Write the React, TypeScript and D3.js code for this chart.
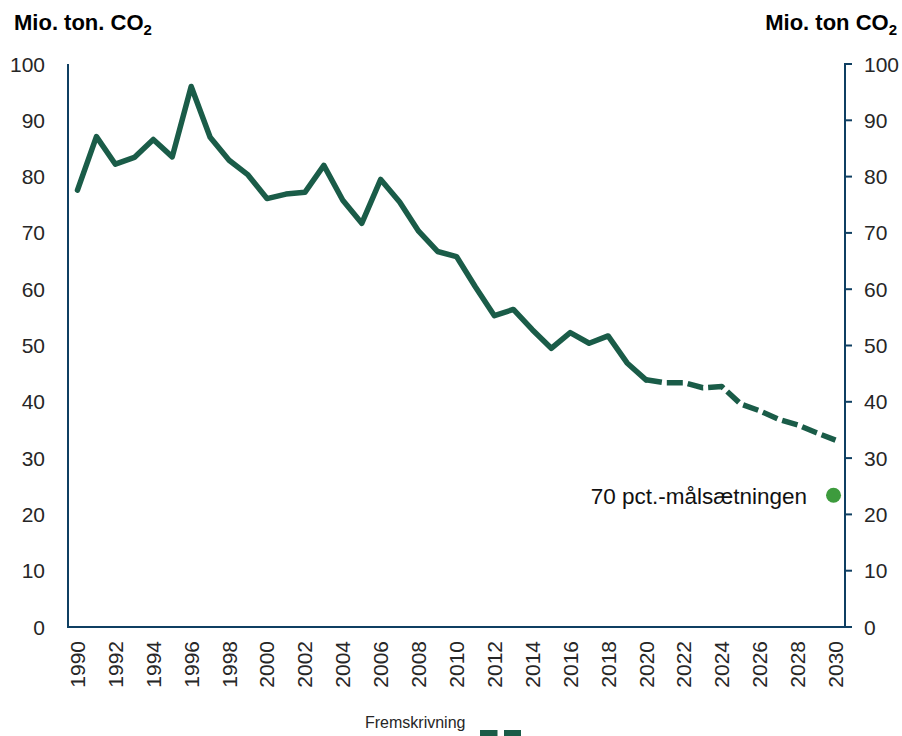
import React from "react";
import * as d3 from "d3";

const histYears = [1990,1991,1992,1993,1994,1995,1996,1997,1998,1999,2000,2001,2002,2003,2004,2005,2006,2007,2008,2009,2010,2011,2012,2013,2014,2015,2016,2017,2018,2019,2020];
const histValues = [77.6,87.1,82.2,83.4,86.6,83.5,96.0,87.0,82.9,80.3,76.1,76.9,77.2,82.0,75.8,71.7,79.5,75.5,70.3,66.7,65.8,60.4,55.3,56.4,52.8,49.5,52.3,50.4,51.7,46.9,43.9];
const projYears = [2020,2021,2022,2023,2024,2025,2026,2027,2028,2029,2030];
const projValues = [43.9,43.4,43.4,42.5,42.7,39.6,38.4,36.9,35.9,34.5,33.2];
const targetYear = 2030;
const targetValue = 23.4;
const targetLabel = "70 pct.-målsætningen";
const yTicks = [0,10,20,30,40,50,60,70,80,90,100];
const allYears = d3.range(1990, 2031);
const xTickYears = d3.range(1990, 2031, 2);
const legendLabel = "Fremskrivning";

const W = 902, H = 736;
const left = 68, right = 845, top = 64, bottom = 627;
const font = "'Liberation Sans', Arial, sans-serif";
const axisColor = "#0f3f62";
const lineColor = "#1a5c48";
const textColor = "#262626";

export default function App() {
  const x = d3.scaleBand<number>().domain(allYears).range([left, right]).padding(0);
  const xc = (yr: number) => (x(yr) as number) + x.bandwidth() / 2;
  const y = d3.scaleLinear().domain([0, 100]).range([bottom, top]);
  const line = d3.line<[number, number]>().x(d => xc(d[0])).y(d => y(d[1]));
  const histPath = line(histYears.map((yr, i) => [yr, histValues[i]]) as [number, number][]) || "";
  const projPath = line(projYears.map((yr, i) => [yr, projValues[i]]) as [number, number][]) || "";

  return (
    <svg width={W} height={H} style={{ position: "absolute", left: 0, top: 0, background: "#fff" }} fontFamily={font}>
      {/* titles */}
      <text x={14} y={30} fontSize={22} fontWeight="bold" fill="#000">
        Mio. ton. CO<tspan fontSize={15} dy={5}>2</tspan>
      </text>
      <text x={897} y={30} fontSize={22} fontWeight="bold" fill="#000" textAnchor="end">
        Mio. ton CO<tspan fontSize={15} dy={5}>2</tspan>
      </text>

      {/* axes */}
      <line x1={left} x2={left} y1={top} y2={bottom} stroke={axisColor} strokeWidth={2} />
      <line x1={left - 1} x2={right + 1} y1={bottom} y2={bottom} stroke={axisColor} strokeWidth={2} />
      <line x1={right} x2={right} y1={top - 1} y2={bottom} stroke={axisColor} strokeWidth={2} />
      {yTicks.map(t => (
        <g key={t}>
          <line x1={right} x2={right + 7} y1={y(t)} y2={y(t)} stroke={axisColor} strokeWidth={2} />
          <text x={45} y={y(t)} fontSize={21} fill={textColor} textAnchor="end" dominantBaseline="central">{t}</text>
          <text x={864} y={y(t)} fontSize={21} fill={textColor} textAnchor="start" dominantBaseline="central">{t}</text>
        </g>
      ))}
      {xTickYears.map(yr => (
        <text key={yr} transform={`translate(${xc(yr)},641) rotate(-90)`} fontSize={21} fill={textColor}
          textAnchor="end" dominantBaseline="central">{yr}</text>
      ))}

      {/* lines */}
      <path d={histPath} fill="none" stroke={lineColor} strokeWidth={5.5} strokeLinejoin="round" strokeLinecap="round" />
      <path d={projPath} fill="none" stroke={lineColor} strokeWidth={5.5} strokeLinejoin="round" strokeDasharray="16 5" />

      {/* target */}
      <circle cx={xc(targetYear) - 2} cy={y(targetValue)} r={7.5} fill="#3d9b3d" />
      <text x={807} y={504} fontSize={22.5} fill="#111" textAnchor="end">{targetLabel}</text>

      {/* legend */}
      <text x={365} y={728} fontSize={16} fill={textColor}>{legendLabel}</text>
      <line x1={480} x2={521} y1={733} y2={733} stroke={lineColor} strokeWidth={6} strokeDasharray="17.5 6.5" />
    </svg>
  );
}
